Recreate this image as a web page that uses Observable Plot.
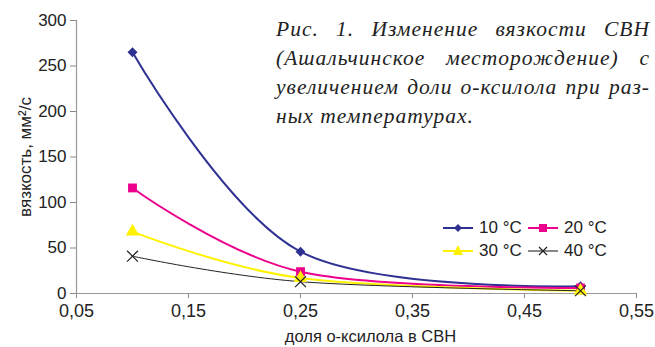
<!DOCTYPE html>
<html><head><meta charset="utf-8">
<script src="https://cdn.jsdelivr.net/npm/d3@7"></script>
<script src="https://cdn.jsdelivr.net/npm/@observablehq/plot@0.6"></script>
<style>
body{margin:0;background:#fff;}
#wrap{position:relative;width:655px;height:347px;font-family:Arial,"Liberation Sans",sans-serif;}
#cap{position:absolute;left:276px;top:15px;width:374px;font-family:"Liberation Serif","Times New Roman",serif;font-style:italic;font-size:21.5px;line-height:29px;color:#222;letter-spacing:1px;}
#cap div{white-space:nowrap;}
#cap div.j{text-align:justify;text-align-last:justify;}
#leg{position:absolute;left:443px;top:216px;font-size:17px;color:#222;}
.row{display:flex;align-items:center;height:23px;}
.item{display:flex;align-items:center;width:85px;}
.item svg{margin-right:6px;}
g[aria-label="y-axis tick label"]{font-size:17px;fill:#222;}
g[aria-label="x-axis tick label"]{font-size:18px;fill:#222;}
g[aria-label="y-axis label"]{font-size:17px;fill:#222;}
</style></head>
<body><div id="wrap"></div>
<script>
const xs = [0.1, 0.25, 0.5];
const series = ["10 °C", "20 °C", "30 °C", "40 °C"];
const v10 = [265, 46, 8];
const v20 = [116, 24, 6];
const v30 = [68, 17, 3];
const v40 = [41, 13, 3];
const xTicks = [0.05, 0.15, 0.25, 0.35, 0.45, 0.55];
const yTicks = [0, 50, 100, 150, 200, 250, 300];
const xLabel = "доля о-ксилола в СВН";
const yLabel = "вязкость, мм²/с";

const colors = ["#2e3192", "#ec008c", "#fff200", "#222"];
const symbols = ["diamond2", "square", "triangle", "times"];
const widths = [2, 2, 2, 1];
const vals = [v10, v20, v30, v40];

const data = [];
series.forEach((s, i) => xs.forEach((x, j) => data.push({s, x, y: vals[i][j]})));

const marks = [
  Plot.axisY({ticks: yTicks, tickSize: 6, tickPadding: 4, stroke: "#888", label: yLabel, labelAnchor: "center", labelArrow: "none", labelOffset: 58}),
  Plot.axisX({ticks: xTicks, tickSize: 5, tickPadding: 6, stroke: "#888", tickFormat: d => d.toFixed(2).replace(".", ","), label: null}),
  Plot.text([xLabel], {frameAnchor: "bottom", dy: 48, dx: 14, lineAnchor: "bottom", fontSize: 16.5, fill: "#222"}),
  Plot.ruleX([0.05], {stroke: "#999", strokeWidth: 1.2}),
  Plot.ruleY([0], {stroke: "#999", strokeWidth: 1.2}),
];
series.forEach((s, i) => {
  const d = data.filter(r => r.s === s);
  marks.push(Plot.line(d, {x: "x", y: "y", stroke: colors[i], strokeWidth: widths[i], curve: "cardinal"}));
});
series.forEach((s, i) => {
  const d = data.filter(r => r.s === s);
  if (symbols[i] === "times") {
    marks.push(Plot.dot(d, {x: "x", y: "y", symbol: "times", stroke: colors[i], strokeWidth: 1.2, r: 5}));
  } else {
    marks.push(Plot.dot(d, {x: "x", y: "y", symbol: symbols[i], fill: colors[i], stroke: "none", r: symbols[i] === "diamond2" ? 4.5 : 5}));
  }
});

const chart = Plot.plot({
  width: 655, height: 347,
  marginLeft: 76, marginRight: 19, marginTop: 20, marginBottom: 54,
  style: {fontFamily: "Arial, 'Liberation Sans', sans-serif", background: "#fff"},
  x: {domain: [0.05, 0.55]},
  y: {domain: [0, 300]},
  marks
});
const wrap = document.getElementById("wrap");
wrap.appendChild(chart);

const cap = document.createElement("div");
cap.id = "cap";
cap.innerHTML = '<div class="j">Рис. 1. Изменение вязкости СВН</div><div class="j">(Ашальчинское месторождение) с</div><div class="j">увеличением доли о-ксилола при раз-</div><div>ных температурах.</div>';
wrap.appendChild(cap);

function sym(i){
  const c = colors[i];
  let m = "";
  if (i === 0) m = `<path d="M15,3 L19,7 L15,11 L11,7Z" fill="${c}"/>`;
  if (i === 1) m = `<rect x="11" y="3" width="8" height="8" fill="${c}"/>`;
  if (i === 2) m = `<path d="M15,1 L20,11 L10,11Z" fill="${c}"/>`;
  if (i === 3) m = `<path d="M11,3 L19,11 M19,3 L11,11" stroke="#222" stroke-width="1.2"/>`;
  const lc = i === 3 ? "#888" : c;
  return `<svg width="30" height="14"><line x1="0" y1="7" x2="30" y2="7" stroke="${lc}" stroke-width="2"/>${m}</svg>`;
}
const leg = document.createElement("div");
leg.id = "leg";
leg.innerHTML = `<div class="row"><div class="item">${sym(0)}${series[0]}</div><div class="item">${sym(1)}${series[1]}</div></div>` +
  `<div class="row"><div class="item">${sym(2)}${series[2]}</div><div class="item">${sym(3)}${series[3]}</div></div>`;
wrap.appendChild(leg);
</script></body></html>
